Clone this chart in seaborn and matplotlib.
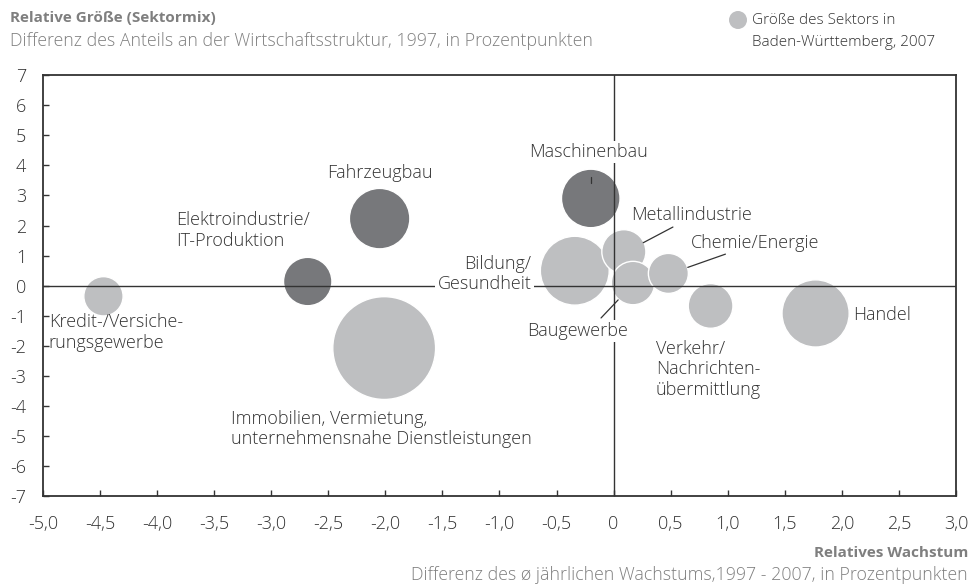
import matplotlib
matplotlib.use("Agg")
import matplotlib.pyplot as plt
import seaborn as sns
import pandas as pd

# ---- data ----
sectors = ["Kredit-/Versicherungsgewerbe", "Elektroindustrie/IT-Produktion", "Fahrzeugbau",
           "Immobilien, Vermietung, unternehmensnahe Dienstleistungen", "Maschinenbau",
           "Bildung/Gesundheit", "Metallindustrie", "Baugewerbe", "Chemie/Energie",
           "Verkehr/Nachrichtenübermittlung", "Handel"]
rel_growth = [-4.47, -2.68, -2.05, -2.01, -0.20, -0.34, 0.09, 0.17, 0.48, 0.85, 1.77]
rel_size = [-0.35, 0.14, 2.23, -2.07, 2.90, 0.50, 1.13, 0.09, 0.41, -0.67, -0.92]
sector_size = [2.7, 4.1, 6.4, 18.5, 6.0, 8.3, 3.4, 3.3, 2.8, 3.5, 7.9]
group = ["hell", "dunkel", "dunkel", "hell", "dunkel", "hell", "hell", "hell", "hell", "hell", "hell"]

x_ticks = [-5.0, -4.5, -4.0, -3.5, -3.0, -2.5, -2.0, -1.5, -1.0, -0.5, 0, 0.5, 1.0, 1.5, 2.0, 2.5, 3.0]
x_ticklabels = ["-5,0", "-4,5", "-4,0", "-3,5", "-3,0", "-2,5", "-2,0", "-1,5", "-1,0", "-0,5",
                "0", "0,5", "1,0", "1,5", "2,0", "2,5", "3,0"]
y_ticks = list(range(-7, 8))
y_ticklabels = [str(v) for v in y_ticks]

df = pd.DataFrame({"sektor": sectors, "x": rel_growth, "y": rel_size,
                   "groesse": sector_size, "gruppe": group})

DARK = "#77787b"
LIGHT = "#bebfc1"
TXT = "#333333"
GREY = "#7f7f7f"
W = 300

sns.set_theme(style="white")
plt.rcParams["font.family"] = ["Open Sans", "DejaVu Sans"]

fig = plt.figure(figsize=(9.72, 5.87), dpi=100)
ax = fig.add_axes([0.0442, 0.1542, 0.9393, 0.7180])

smax = (1.44 * 51.4) ** 2
sns.scatterplot(data=df, x="x", y="y", hue="gruppe", size="groesse",
                palette={"hell": LIGHT, "dunkel": DARK},
                sizes=(0, smax), size_norm=(0, max(sector_size)),
                edgecolor="white", linewidth=1.0, alpha=1, legend=False,
                ax=ax, zorder=2)

ax.set_xlim(-5, 3)
ax.set_ylim(-7, 7)
ax.axhline(0, color=TXT, lw=1.0, zorder=3)
ax.axvline(0, color=TXT, lw=1.0, zorder=3)

ax.set_xticks(x_ticks)
ax.set_xticklabels(x_ticklabels, fontweight=W)
ax.set_yticks(y_ticks)
ax.set_yticklabels(y_ticklabels, fontweight=W)
ax.tick_params(axis="both", direction="in", length=4.5, width=1, color=TXT,
               labelsize=13, labelcolor=TXT, top=False, right=False, left=True, bottom=True)
ax.tick_params(axis="x", pad=13)
ax.tick_params(axis="y", pad=12)
ax.set_xlabel("")
ax.set_ylabel("")
for s in ax.spines.values():
    s.set_visible(True)
    s.set_color(TXT)
    s.set_linewidth(1.3)

fs = 13
bb = dict(facecolor="white", edgecolor="none", pad=1.5)

def lab(x, y, t, ha="left", va="center", box=False):
    kw = dict(ha=ha, va=va, fontsize=fs, color=TXT, zorder=5, linespacing=1.2, fontweight=W)
    if box:
        kw["bbox"] = bb
    ax.text(x, y, t, **kw)

lab(-4.95, -1.55, "Kredit-/Versiche-\nrungsgewerbe")
lab(-3.83, 1.83, "Elektroindustrie/\nIT-Produktion")
lab(-2.05, 3.74, "Fahrzeugbau", ha="center")
lab(-3.35, -4.76, "Immobilien, Vermietung,\nunternehmensnahe Dienstleistungen")
lab(-0.22, 4.45, "Maschinenbau", ha="center", box=True)
lab(-0.72, 0.39, "Bildung/\nGesundheit", ha="right", box=True)
lab(0.15, 2.35, "Metallindustrie")
lab(0.68, 1.43, "Chemie/Energie")
lab(-0.32, -1.50, "Baugewerbe", ha="center", box=True)
lab(0.37, -2.78, "Verkehr/\nNachrichten-\nübermittlung")
lab(2.10, -0.98, "Handel")

# leader lines
ax.plot([-0.20, -0.20], [3.40, 3.62], color=TXT, lw=0.9, zorder=4)
ax.plot([0.26, 0.52], [1.43, 1.95], color=TXT, lw=0.9, zorder=4)
ax.plot([0.65, 0.98], [0.61, 1.05], color=TXT, lw=0.9, zorder=4)
ax.plot([-0.11, 0.04], [-1.07, -0.47], color=TXT, lw=0.9, zorder=4)

# titles
fig.text(10 / 972, 1 - 18 / 587, "Relative Größe (Sektormix)", fontsize=11, fontweight="bold",
         color=GREY, ha="left", va="center")
fig.text(10 / 972, 1 - 41 / 587, "Differenz des Anteils an der Wirtschaftsstruktur, 1997, in Prozentpunkten",
         fontsize=12.8, color=GREY, ha="left", va="center", fontweight=W)
fig.text(968 / 972, 1 - 553 / 587, "Relatives Wachstum", fontsize=11, fontweight="bold",
         color=GREY, ha="right", va="center")
fig.text(968 / 972, 1 - 575 / 587, "Differenz des ø jährlichen Wachstums,1997 - 2007, in Prozentpunkten",
         fontsize=12.8, color=GREY, ha="right", va="center", fontweight=W)

# size legend
fig.text(752 / 972, 1 - 20 / 587, "Größe des Sektors in", fontsize=11,
         color=TXT, ha="left", va="center", fontweight=W)
fig.text(752 / 972, 1 - 42 / 587, "Baden-Württemberg, 2007", fontsize=11,
         color=TXT, ha="left", va="center", fontweight=W)
leg_ax = fig.add_axes([0, 0, 1, 1], facecolor="none")
leg_ax.set_axis_off()
leg_ax.set_xlim(0, 972)
leg_ax.set_ylim(587, 0)
sns.scatterplot(x=[738], y=[20], s=(1.44 * 9) ** 2, color=LIGHT, edgecolor="none",
                ax=leg_ax, legend=False)

fig.savefig("out.png", dpi=100)
